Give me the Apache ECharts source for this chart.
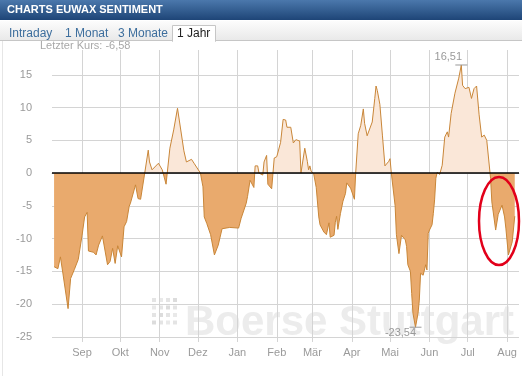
<!DOCTYPE html>
<html>
<head>
<meta charset="utf-8">
<script src="https://cdn.jsdelivr.net/npm/echarts@6/dist/echarts.min.js"></script>
<style>
html, body { margin: 0; padding: 0; background: #fff; }
#main { width: 522px; height: 376px; }
</style>
</head>
<body>
<div id="main"></div>
<script>
var title = 'CHARTS EUWAX SENTIMENT';
var tabs = ['Intraday', '1 Monat', '3 Monate', '1 Jahr'];
var lastPrice = -6.58;
var monthNames = ['Jan', 'Feb', 'Mär', 'Apr', 'Mai', 'Jun', 'Jul', 'Aug', 'Sep', 'Okt', 'Nov', 'Dez'];
var monthTicks = ['2012-09-01', '2012-10-01', '2012-11-01', '2012-12-01', '2013-01-01', '2013-02-01',
    '2013-03-01', '2013-04-01', '2013-05-01', '2013-06-01', '2013-07-01', '2013-08-01'];
var yTicks = [-25, -20, -15, -10, -5, 0, 5, 10, 15];

var days = [
    '2012-08-10', '2012-08-13', '2012-08-15', '2012-08-17', '2012-08-21', '2012-08-23', '2012-08-26', '2012-08-29',
    '2012-09-01', '2012-09-03', '2012-09-05', '2012-09-06', '2012-09-10', '2012-09-12', '2012-09-14', '2012-09-17',
    '2012-09-21', '2012-09-23', '2012-09-25', '2012-09-27', '2012-09-29',
    '2012-10-02', '2012-10-04', '2012-10-06', '2012-10-08', '2012-10-09', '2012-10-13', '2012-10-15', '2012-10-17',
    '2012-10-20', '2012-10-23', '2012-10-24', '2012-10-26', '2012-10-31',
    '2012-11-03', '2012-11-06', '2012-11-09', '2012-11-12', '2012-11-15', '2012-11-20', '2012-11-22', '2012-11-26',
    '2012-11-28',
    '2012-12-03', '2012-12-05', '2012-12-06', '2012-12-08', '2012-12-11', '2012-12-14', '2012-12-17', '2012-12-20',
    '2012-12-26',
    '2013-01-02', '2013-01-04', '2013-01-08', '2013-01-09', '2013-01-11', '2013-01-12', '2013-01-14', '2013-01-15',
    '2013-01-17', '2013-01-18', '2013-01-21', '2013-01-22', '2013-01-24', '2013-01-25', '2013-01-28', '2013-01-30',
    '2013-02-01', '2013-02-04', '2013-02-06', '2013-02-08', '2013-02-09', '2013-02-12', '2013-02-14', '2013-02-16',
    '2013-02-19', '2013-02-20', '2013-02-23', '2013-02-25', '2013-02-26', '2013-02-27', '2013-02-28',
    '2013-03-02', '2013-03-04', '2013-03-06', '2013-03-07', '2013-03-10', '2013-03-12', '2013-03-14', '2013-03-15',
    '2013-03-18', '2013-03-19', '2013-03-20', '2013-03-21', '2013-03-23', '2013-03-25', '2013-03-27', '2013-03-28',
    '2013-03-31',
    '2013-04-03', '2013-04-04', '2013-04-06', '2013-04-08', '2013-04-10', '2013-04-11', '2013-04-13', '2013-04-17',
    '2013-04-19', '2013-04-20', '2013-04-21', '2013-04-23', '2013-04-25', '2013-04-27', '2013-04-30',
    '2013-05-01', '2013-05-02', '2013-05-05', '2013-05-06', '2013-05-08', '2013-05-10', '2013-05-13', '2013-05-14',
    '2013-05-15', '2013-05-17', '2013-05-18', '2013-05-19', '2013-05-21', '2013-05-23', '2013-05-24', '2013-05-25',
    '2013-05-27', '2013-05-29', '2013-05-30', '2013-05-31',
    '2013-06-01', '2013-06-03', '2013-06-04', '2013-06-05', '2013-06-06', '2013-06-07', '2013-06-09', '2013-06-11',
    '2013-06-13', '2013-06-15', '2013-06-16', '2013-06-18', '2013-06-21', '2013-06-24', '2013-06-26', '2013-06-27',
    '2013-06-29',
    '2013-07-02', '2013-07-04', '2013-07-06', '2013-07-08', '2013-07-10', '2013-07-12', '2013-07-14', '2013-07-16',
    '2013-07-17', '2013-07-19', '2013-07-20', '2013-07-23', '2013-07-25', '2013-07-28', '2013-07-30', '2013-07-31',
    '2013-08-02', '2013-08-05', '2013-08-07'
];

var sentiment = [
    -14.3, -14.6, -12.8, -15.4, -20.7, -16.1, -14.7, -13.2,
    -9.5, -6.7, -6.0, -11.9, -12.1, -12.5, -11.0, -9.6,
    -14.0, -13.5, -11.5, -13.8, -11.1,
    -12.8, -8.2, -7.4, -5.1, -4.6, -1.8, -3.9, -4.0,
    -0.3, 3.5, 1.7, 0.5, 1.5,
    0.5, -1.7, 3.8, 6.6, 9.9, 3.4, 1.7, 2.1,
    1.5,
    0.0, -2.1, -6.7, -7.7, -9.4, -12.5, -11.0, -8.5,
    -8.3,
    -8.4, -6.9, -4.6, -3.6, -1.1, -1.3, -2.2, 1.1,
    1.1, 0.0, -0.3, 1.7, 2.7, -1.7, -2.4, 2.3,
    2.5, 4.7, 8.2, 8.1, 7.0, 7.0, 4.6, 5.1,
    4.9, 0.0, 3.8, 1.8, 0.5, 1.1, 0.3,
    -0.1, -2.2, -6.7, -7.9, -9.0, -9.4, -7.6, -9.8,
    -9.5, -7.5, -6.6, -8.6, -6.2, -4.3, -3.1, -1.5,
    -2.3,
    -4.0, 0.0, 6.0, 7.3, 9.8, 7.6, 5.7, 7.8,
    11.4, 13.3, 12.6, 10.5, 5.8, 1.1, 1.8,
    2.2, 0.0, -5.0, -9.4, -12.3, -9.5, -10.2, -11.2,
    -14.0, -15.0, -18.4, -21.4, -23.54, -21.4, -19.4, -15.3,
    -15.6, -14.0, -14.8, -9.2,
    -8.7, -7.9, -6.2, -4.1, -0.8, 0.1, -0.2, 1.2,
    5.5, 6.3, 5.5, 9.1, 12.2, 14.5, 16.51, 13.4,
    12.9,
    13.1, 11.4, 12.9, 13.3, 8.9, 5.5, 5.8, 5.0,
    4.8, -0.8, -4.4, -8.7, -6.3, -4.9, -6.7, -8.4,
    -12.5, -10.5, -6.58
];

function parseDay(s) {
    var p = s.split('-');
    return new Date(+p[0], +p[1] - 1, +p[2]).getTime();
}

function deNum(v) {
    return v.toFixed(2).replace('.', ',');
}

var seriesData = [];
for (var i = 0; i < days.length; i++) {
    seriesData.push([parseDay(days[i]), sentiment[i]]);
}
var tickTimes = monthTicks.map(parseDay);

var gridGray = '#d4d4d4';
var labelGray = '#9a9a9a';
var font = '"Liberation Sans", Arial, sans-serif';

// Kopfzeile, Reiter, Wasserzeichen
var graphics = [
    {
        type: 'rect', z: 10, silent: true,
        shape: { x: 0, y: 0, width: 522, height: 20 },
        style: {
            fill: { type: 'linear', x: 0, y: 0, x2: 0, y2: 1,
                colorStops: [{ offset: 0, color: '#4b78ac' }, { offset: 1, color: '#1e4577' }] }
        }
    },
    {
        type: 'text', z: 11, silent: true,
        style: { text: title, x: 7, y: 10, verticalAlign: 'middle', fill: '#fff',
            font: 'bold 11px ' + font }
    },
    {
        type: 'rect', z: 10, silent: true,
        shape: { x: 0, y: 21, width: 522, height: 20 },
        style: {
            fill: { type: 'linear', x: 0, y: 0, x2: 0, y2: 1,
                colorStops: [{ offset: 0, color: '#fcfcfc' }, { offset: 1, color: '#e8e8e8' }] }
        }
    },
    {
        type: 'line', z: 10, silent: true,
        shape: { x1: 0, y1: 40.5, x2: 522, y2: 40.5 },
        style: { stroke: '#c6c6c6', lineWidth: 1 }
    },
    {
        type: 'rect', z: 11, silent: true,
        shape: { x: 172.5, y: 25.5, width: 43, height: 16 },
        style: { fill: '#fff', stroke: '#c6c6c6', lineWidth: 1 }
    },
    {
        type: 'rect', z: 11, silent: true,
        shape: { x: 173, y: 39, width: 42, height: 3 },
        style: { fill: '#fff' }
    },
    {
        type: 'line', z: 12, silent: true,
        shape: { x1: 2.5, y1: 41, x2: 2.5, y2: 376 },
        style: { stroke: '#e6e6e6', lineWidth: 1 }
    },
    {
        type: 'text', z: 12, silent: true,
        style: { text: 'Letzter Kurs: ' + deNum(lastPrice), x: 40, y: 46, verticalAlign: 'middle',
            fill: '#a8a8a8', font: '11px ' + font }
    },
    {
        type: 'text', z: -10, silent: true,
        style: { text: 'Boerse Stuttgart', x: 185, y: 323, verticalAlign: 'middle',
            fill: '#ececec', font: 'bold 42px ' + font }
    },
    {
        type: 'ellipse', z: 20, silent: true,
        shape: { cx: 499, cy: 221, rx: 20, ry: 44 },
        style: { fill: 'none', stroke: '#e2001a', lineWidth: 2.5 }
    }
];

var tabX = [9, 65, 118, 177];
for (var t = 0; t < tabs.length; t++) {
    graphics.push({
        type: 'text', z: 12, silent: true,
        style: { text: tabs[t], x: tabX[t], y: 33.5, verticalAlign: 'middle',
            fill: t === tabs.length - 1 ? '#222' : '#3d6e9d', font: '12px ' + font }
    });
}

// Logo-Punkte vor dem Schriftzug
var dotShade = ['#e4e4e4', '#e9e9e9', '#e4e4e4', '#dcdcdc'];
for (var r = 0; r < 4; r++) {
    for (var c = 0; c < 4; c++) {
        graphics.push({
            type: 'rect', z: -10, silent: true,
            shape: { x: 152 + c * 7, y: 298 + r * 7.5, width: 4, height: 4 },
            style: { fill: dotShade[(r + c) % 4] }
        });
    }
}

var option = {
    animation: false,
    backgroundColor: '#fff',
    grid: { left: 52, right: 3, top: 50, bottom: 34 },
    graphic: graphics,
    visualMap: {
        show: false,
        type: 'piecewise',
        seriesIndex: 0,
        dimension: 1,
        pieces: [
            { gte: -100, lt: 0, color: '#e9aa6d' },
            { gte: 0, lte: 100, color: '#fae7d8' }
        ]
    },
    xAxis: {
        type: 'value',
        min: new Date(2012, 7, 8, 9).getTime(),
        max: new Date(2013, 7, 10, 8).getTime(),
        axisLine: { show: true, lineStyle: { color: '#c8c8c8' } },
        axisTick: { show: false, customValues: tickTimes },
        axisLabel: {
            customValues: tickTimes,
            color: labelGray,
            fontSize: 11,
            fontFamily: font,
            margin: 5,
            formatter: function (v) {
                return monthNames[new Date(v).getMonth()];
            }
        },
        splitLine: { show: true, lineStyle: { color: gridGray, width: 1 } }
    },
    yAxis: {
        type: 'value',
        min: -25.8,
        max: 18.8,
        axisLine: { show: false },
        axisTick: { show: false, customValues: yTicks },
        axisLabel: {
            customValues: yTicks,
            color: labelGray,
            fontSize: 11,
            fontFamily: font,
            margin: 20
        },
        splitLine: { show: true, lineStyle: { color: gridGray, width: 1 } }
    },
    series: [
        {
            type: 'line',
            data: seriesData,
            symbol: 'none',
            lineStyle: { width: 0 },
            areaStyle: { opacity: 1 },
            z: 2
        },
        {
            type: 'line',
            data: seriesData,
            symbol: 'none',
            lineStyle: { width: 1, color: '#c98638' },
            z: 3,
            markLine: {
                silent: true,
                symbol: 'none',
                label: { show: false },
                lineStyle: { color: '#000', width: 1.5, type: 'solid' },
                data: [{ yAxis: 0 }]
            },
            markPoint: {
                silent: true,
                symbol: 'rect',
                symbolSize: [12, 1],
                itemStyle: { color: '#999' },
                label: {
                    show: true,
                    color: labelGray,
                    fontSize: 11,
                    fontFamily: font,
                    formatter: function (p) { return deNum(p.value); }
                },
                data: [
                    { type: 'max', label: { position: 'top', distance: 2, offset: [-13, 0] } },
                    { type: 'min', label: { position: 'bottom', distance: 0, offset: [-15, 0] } }
                ]
            }
        }
    ]
};

var chart = echarts.init(document.getElementById('main'));
chart.setOption(option);
</script>
</body>
</html>
